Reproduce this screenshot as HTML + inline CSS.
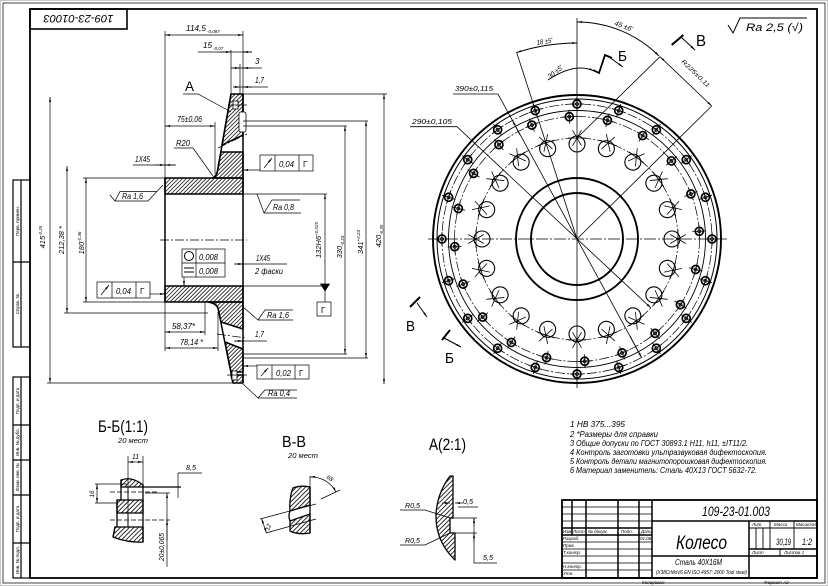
<!DOCTYPE html>
<html><head><meta charset="utf-8"><style>
html,body{margin:0;padding:0;background:#fff;}
svg{display:block;}
text{font-family:"Liberation Sans","DejaVu Sans",sans-serif;font-style:italic;fill:#000;stroke:none;}
.u{font-style:normal;}
</style></head><body>
<svg xmlns="http://www.w3.org/2000/svg" width="828" height="586" viewBox="0 0 828 586">
<defs>
<pattern id="h" width="2.8" height="2.8" patternUnits="userSpaceOnUse" patternTransform="rotate(45)"><line x1="0.5" y1="0" x2="0.5" y2="2.8" stroke="#000" stroke-width="0.75"/></pattern>
<pattern id="h2" width="3.2" height="3.2" patternUnits="userSpaceOnUse" patternTransform="rotate(45)"><line x1="0.5" y1="0" x2="0.5" y2="3.2" stroke="#000" stroke-width="0.8"/></pattern>
<marker id="ar" viewBox="0 0 10 4" refX="10" refY="2" markerWidth="5" markerHeight="2" markerUnits="userSpaceOnUse" orient="auto-start-reverse"><path d="M0,0 L10,2 L0,4 Z" fill="#000"/></marker>
<g id="oh" stroke="#000" fill="none"><circle cx="577" cy="104" r="4" stroke-width="1.7"/><circle cx="577" cy="104" r="1.5" stroke-width="0.8"/><path d="M570,104 H584 M577,97 V111" stroke-width="0.8"/></g>
<g id="ih" stroke="#000" fill="none"><circle cx="577" cy="116.5" r="4" stroke-width="1.7"/><circle cx="577" cy="116.5" r="1.5" stroke-width="0.8"/><path d="M570,116.5 H584 M577,109.5 V123.5" stroke-width="0.8"/></g>
<g id="bh" stroke="#000" fill="none"><circle cx="577" cy="144" r="8" stroke-width="1.1"/><path d="M568,138 H586 M572.5,130.2 L581.5,145.8 M581.5,130.2 L572.5,145.8" stroke-width="0.8"/></g>
</defs>

<rect x="0" y="0" width="828" height="586" fill="#fff"/>
<rect x="0.5" y="0.5" width="827" height="585" fill="none" stroke="#c8c8c8" stroke-width="1"/>
<rect x="3" y="3" width="822" height="580" fill="none" stroke="#444" stroke-width="1"/>
<rect x="30" y="9" width="787" height="569" fill="none" stroke="#000" stroke-width="1.8"/>

<!-- top-left stamp -->
<rect x="30" y="9" width="97" height="20" fill="none" stroke="#000" stroke-width="1.6"/>
<text transform="translate(78.5,19) rotate(180)" y="4" text-anchor="middle" font-size="11" textLength="70" lengthAdjust="spacingAndGlyphs">109-23-01003</text>

<!-- left margin stamps -->
<g fill="none" stroke="#000" stroke-width="1.2">
<rect x="13" y="180" width="17" height="167"/><line x1="21" y1="180" x2="21" y2="347"/><line x1="13" y1="262" x2="30" y2="262"/>
<rect x="13" y="377" width="17" height="201"/><line x1="21" y1="377" x2="21" y2="578"/>
<path d="M13,425 H30 M13,460 H30 M13,495 H30 M13,543 H30"/>
</g>
<g font-size="4.5" class="u">
<text class="u" transform="translate(19,221) rotate(-90)" text-anchor="middle">Перв. примен.</text>
<text class="u" transform="translate(19,304) rotate(-90)" text-anchor="middle">Справ. №</text>
<text class="u" transform="translate(19,401) rotate(-90)" text-anchor="middle">Подп. и дата</text>
<text class="u" transform="translate(19,442) rotate(-90)" text-anchor="middle">Инв. № дубл.</text>
<text class="u" transform="translate(19,477) rotate(-90)" text-anchor="middle">Взам. инв. №</text>
<text class="u" transform="translate(19,519) rotate(-90)" text-anchor="middle">Подп. и дата</text>
<text class="u" transform="translate(19,560) rotate(-90)" text-anchor="middle">Инв. № подл.</text>
</g>

<!-- ============ MAIN SECTION VIEW ============ -->
<g stroke="#000" stroke-width="1.5" stroke-linejoin="round">
<rect x="165" y="178" width="78" height="16" fill="url(#h)"/>
<rect x="165" y="286" width="78" height="16" fill="url(#h)"/>
<path d="M231,94 L243,94 L243,135 L222,145 Z" fill="url(#h)"/>
<path d="M221,152 L243,152 L243,178 L212,178 Q217,177 218,168 Z" fill="url(#h)"/>
<path d="M208,302 L243,302 L243,329 L221,322 L218,308 Q216,303 208,302 Z" fill="url(#h)"/>
<path d="M225,342 L243,349 L243,372 L231,372 Z" fill="url(#h)"/>
<path d="M231,375 L243,375 L243,383 L233,383 Z" fill="url(#h)"/>
<path d="M165,178 V302 M243,94 V383" fill="none"/>
<path d="M231,94 L218,168 Q217,177 212,178" fill="none"/>
<path d="M208,302 Q216,303 218,308 L233,383" fill="none"/>
</g>
<g stroke="#000" stroke-width="0.8" fill="#fff">
<rect x="233" y="101" width="5" height="8"/>
<rect x="239" y="112" width="7" height="20" rx="2"/>
<rect x="232" y="371" width="5" height="9"/>
</g>
<g stroke="#000" stroke-width="0.7" fill="none">
<path d="M228,105 H247 M227,375 H247"/>
<path d="M218,148 L247,134 M217,334 L246,338 M160,240 H247" stroke-dasharray="9 2 2 2"/>
</g>

<!-- dimension & ext lines -->
<g stroke="#000" stroke-width="0.7" fill="none">
<path d="M165,31 V178 M243,31 V94 M231,50 V95 M240,64 V95"/>
<line x1="165" y1="35" x2="243" y2="35" marker-start="url(#ar)" marker-end="url(#ar)"/>
<path d="M198,52 H252"/><line x1="220" y1="52" x2="231" y2="52" marker-end="url(#ar)"/><line x1="252" y1="52" x2="243" y2="52" marker-end="url(#ar)"/>
<path d="M231,68 H262"/><line x1="232" y1="68" x2="240" y2="68" marker-end="url(#ar)"/><line x1="252" y1="68" x2="243" y2="68" marker-end="url(#ar)"/>
<path d="M234,87 H268"/><line x1="233" y1="87" x2="240" y2="87" marker-end="url(#ar)"/><line x1="252" y1="87" x2="243" y2="87" marker-end="url(#ar)"/>
<path d="M183,94 H198 L231,112"/>
<line x1="165" y1="126" x2="215" y2="126" marker-start="url(#ar)" marker-end="url(#ar)"/>
<path d="M215,122 V174"/>
<path d="M174,148 H193 L213,176"/>
<path d="M133,165 H175"/><line x1="155" y1="165" x2="165" y2="165" marker-end="url(#ar)"/><line x1="176" y1="165" x2="165" y2="165" marker-end="url(#ar)"/>
<!-- Ra 1,6 left -->
<path d="M110,195 L115,201 L120,191.5 H157 M115,201 H148 L163,185"/>
<!-- tol box top -->
<rect x="260" y="155" width="53" height="16"/><path d="M275,155 V171 M299,155 V171"/>
<line x1="264" y1="168" x2="272" y2="158" marker-end="url(#ar)"/>
<line x1="260" y1="170" x2="243" y2="170" marker-end="url(#ar)"/>
<!-- Ra 0,8 -->
<path d="M257,194 L264,213 L272,200 H300 M264,213 H301"/>
<path d="M243,194 H327 M243,286 H327"/>
<line x1="325" y1="240" x2="325" y2="194" marker-end="url(#ar)"/>
<path d="M325,240 V290 M325,290 V302"/>
<path d="M320.5,284 H329.5 L325,291 Z" fill="#000"/>
<rect x="317" y="302" width="14" height="14"/>
<path d="M243,126 H347 M243,354 H347 M243,121 H368 M243,358 H368 M243,94 H387"/>
<line x1="345" y1="126" x2="345" y2="354" marker-start="url(#ar)" marker-end="url(#ar)"/>
<line x1="366" y1="121" x2="366" y2="358" marker-start="url(#ar)" marker-end="url(#ar)"/>
<line x1="384" y1="94" x2="384" y2="384" marker-start="url(#ar)" marker-end="url(#ar)"/>
<!-- circle/flat box -->
<rect x="182" y="249" width="43" height="28"/><path d="M182,263 H225 M196,249 V277"/>
<circle cx="189" cy="256" r="4.5" stroke-width="1"/>
<path d="M184,268 H194 M184,272 H194" stroke-width="1"/>
<line x1="184" y1="277" x2="184" y2="286" marker-end="url(#ar)"/>
<path d="M235,264 H287"/><line x1="234" y1="264" x2="243" y2="264" marker-end="url(#ar)"/>
<!-- left tol box -->
<rect x="97" y="282" width="53" height="16"/><path d="M112,282 V298 M136,282 V298"/>
<line x1="101" y1="295" x2="109" y2="285" marker-end="url(#ar)"/>
<line x1="150" y1="294" x2="165" y2="294" marker-end="url(#ar)"/>
<!-- left dims -->
<path d="M83,178 H165 M83,302 H165 M64,313 H208 M47,383 H240"/>
<line x1="86" y1="178" x2="86" y2="302" marker-start="url(#ar)" marker-end="url(#ar)"/>
<line x1="67" y1="166" x2="67" y2="313" marker-start="url(#ar)" marker-end="url(#ar)"/>
<line x1="50" y1="97" x2="50" y2="383" marker-start="url(#ar)" marker-end="url(#ar)"/>
<!-- Ra 1,6 lower -->
<path d="M243,307 L258,320 L265,310 H293 M258,320 H293"/>
<!-- 58,37 / 78,14 -->
<path d="M165,302 V351 M205,302 V335 M218,312 V351"/>
<line x1="165" y1="332" x2="205" y2="332" marker-start="url(#ar)" marker-end="url(#ar)"/>
<line x1="165" y1="348" x2="218" y2="348" marker-start="url(#ar)" marker-end="url(#ar)"/>
<path d="M235,341 H267"/><line x1="234" y1="341" x2="243" y2="341" marker-end="url(#ar)"/>
<!-- tol 0,02 -->
<rect x="257" y="365" width="52" height="14"/><path d="M272,365 V379 M295,365 V379"/>
<line x1="261" y1="376" x2="268" y2="368" marker-end="url(#ar)"/>
<line x1="257" y1="366" x2="243" y2="366" marker-end="url(#ar)"/>
<!-- Ra 0,4 -->
<path d="M243,384 L258,398 L265,390 H297 M258,398 H297"/>
</g>

<g font-size="8">
<text x="186" y="31" textLength="20" lengthAdjust="spacingAndGlyphs">114,5</text><text x="207" y="33" font-size="4.5">-0,087</text>
<text x="203" y="48" textLength="9" lengthAdjust="spacingAndGlyphs">15</text><text x="213" y="50" font-size="4.5">-0,07</text>
<text x="255" y="64">3</text>
<text x="255" y="83" textLength="9" lengthAdjust="spacingAndGlyphs">1,7</text>
<text class="u" x="185" y="91" font-size="14" textLength="9" lengthAdjust="spacingAndGlyphs">A</text>
<text x="177" y="122" textLength="25" lengthAdjust="spacingAndGlyphs">75±0,06</text>
<text x="176" y="146" textLength="14" lengthAdjust="spacingAndGlyphs">R20</text>
<text x="135" y="162" textLength="15" lengthAdjust="spacingAndGlyphs">1Х45</text>
<text x="122" y="199" textLength="21" lengthAdjust="spacingAndGlyphs">Ra 1,6</text>
<text x="279" y="167" textLength="15" lengthAdjust="spacingAndGlyphs">0,04</text><text x="303" y="167" class="u">Г</text>
<text x="273" y="210" textLength="21" lengthAdjust="spacingAndGlyphs">Ra 0,8</text>
<text x="321" y="313" class="u">Г</text>
<text transform="translate(321,240) rotate(-90)" text-anchor="middle" font-size="7.5">132H6<tspan font-size="4.5" dy="-3">+0,025</tspan></text>
<text transform="translate(342,247) rotate(-90)" text-anchor="middle" font-size="7.5">330<tspan font-size="4.5" dy="2">-0,23</tspan></text>
<text transform="translate(363,242) rotate(-90)" text-anchor="middle" font-size="7.5">341<tspan font-size="4.5" dy="-3">+0,23</tspan></text>
<text transform="translate(381,236) rotate(-90)" text-anchor="middle" font-size="7.5">420<tspan font-size="4.5" dy="2">-0,35</tspan></text>
<text x="199" y="260" textLength="19" lengthAdjust="spacingAndGlyphs">0,008</text>
<text x="199" y="274" textLength="19" lengthAdjust="spacingAndGlyphs">0,008</text>
<text x="256" y="261" textLength="14" lengthAdjust="spacingAndGlyphs">1Х45</text>
<text x="255" y="274" textLength="28" lengthAdjust="spacingAndGlyphs">2 фаски</text>
<text x="116" y="294" textLength="15" lengthAdjust="spacingAndGlyphs">0,04</text><text x="140" y="294" class="u">Г</text>
<text transform="translate(84,243) rotate(-90)" text-anchor="middle" font-size="7.5">180<tspan font-size="4.5" dy="-3">-0,36</tspan></text>
<text transform="translate(64,240) rotate(-90)" text-anchor="middle" font-size="7.5">212,38 *</text>
<text transform="translate(45,237) rotate(-90)" text-anchor="middle" font-size="7.5">415<tspan font-size="4.5" dy="-3">-0,25</tspan></text>
<text x="267" y="318" textLength="22" lengthAdjust="spacingAndGlyphs">Ra 1,6</text>
<text x="172" y="329" textLength="23" lengthAdjust="spacingAndGlyphs">58,37*</text>
<text x="180" y="345" textLength="23" lengthAdjust="spacingAndGlyphs">78,14 *</text>
<text x="255" y="337" textLength="9" lengthAdjust="spacingAndGlyphs">1,7</text>
<text x="276" y="376" textLength="15" lengthAdjust="spacingAndGlyphs">0,02</text><text x="299" y="376" class="u">Г</text>
<text x="268" y="396" textLength="22" lengthAdjust="spacingAndGlyphs">Ra 0,4</text>
</g>

<!-- ============ CIRCULAR VIEW ============ -->
<g stroke="#000" fill="none">
<circle cx="577" cy="239" r="144" stroke-width="1.9"/>
<circle cx="577" cy="239" r="140" stroke-width="1"/>
<circle cx="577" cy="239" r="135" stroke-width="0.7" stroke-dasharray="10 2 2 2"/>
<circle cx="577" cy="239" r="128.5" stroke-width="0.9"/>
<circle cx="577" cy="239" r="122.5" stroke-width="0.7" stroke-dasharray="10 2 2 2"/>
<circle cx="577" cy="239" r="101" stroke-width="0.7" stroke-dasharray="10 2 2 2"/>
<circle cx="577" cy="239" r="61" stroke-width="1.9"/>
<circle cx="577" cy="239" r="46" stroke-width="1.9"/>
<path d="M428,239 H727" stroke-width="0.7" stroke-dasharray="12 2 2 2"/>
<path d="M577,18 V388" stroke-width="0.8"/>
<path d="M577,239 L516.5,52 M577,239 L711.7,106 M577,138 L660,56.7" stroke-width="0.8"/>
<line x1="660" y1="56.7" x2="711.7" y2="106" stroke-width="0.8" marker-start="url(#ar)" marker-end="url(#ar)"/>
<path d="M577,22 A116,116 0 0 1 659,56" stroke-width="0.9" marker-start="url(#ar)" marker-end="url(#ar)"/>
<path d="M516.4,52.6 A196,196 0 0 1 577,43" stroke-width="0.9" marker-start="url(#ar)" marker-end="url(#ar)"/>
<path d="M548,80 Q575,62 594,71" stroke-width="0.9" marker-end="url(#ar)"/>
<path d="M593,70 L599,73 L605,55 L612,58" stroke-width="1.8"/>
<line x1="609" y1="57" x2="623" y2="67" stroke-width="1" marker-end="url(#ar)"/>
<path d="M671.7,45 L683.3,35" stroke-width="2"/>
<line x1="681" y1="37" x2="695" y2="50" stroke-width="1" marker-end="url(#ar)"/>
<path d="M410,307 L420,297" stroke-width="2"/>
<line x1="417" y1="303" x2="427" y2="317" stroke-width="1" marker-end="url(#ar)"/>
<path d="M442,340 L450,330" stroke-width="2"/>
<line x1="444" y1="338" x2="461" y2="347" stroke-width="1" marker-end="url(#ar)"/>
<path d="M453,94 H498 L641.6,357.6" stroke-width="0.8"/>
<line x1="520" y1="135" x2="512.4" y2="120.4" stroke-width="0.8" marker-end="url(#ar)"/>
<line x1="630" y1="336" x2="641.6" y2="357.6" stroke-width="0.8" marker-end="url(#ar)"/>
<path d="M410,126.7 H457 L651,308" stroke-width="0.8" marker-end="url(#ar)"/>
<path d="M728,25 L733,33 L740,18 H807" stroke-width="1"/>
</g>
<g>
<use href="#oh"/>
<use href="#oh" transform="rotate(18 577 239)"/><use href="#oh" transform="rotate(36 577 239)"/><use href="#oh" transform="rotate(54 577 239)"/><use href="#oh" transform="rotate(72 577 239)"/><use href="#oh" transform="rotate(90 577 239)"/><use href="#oh" transform="rotate(108 577 239)"/><use href="#oh" transform="rotate(126 577 239)"/><use href="#oh" transform="rotate(144 577 239)"/><use href="#oh" transform="rotate(162 577 239)"/><use href="#oh" transform="rotate(180 577 239)"/><use href="#oh" transform="rotate(198 577 239)"/><use href="#oh" transform="rotate(216 577 239)"/><use href="#oh" transform="rotate(234 577 239)"/><use href="#oh" transform="rotate(252 577 239)"/><use href="#oh" transform="rotate(270 577 239)"/><use href="#oh" transform="rotate(288 577 239)"/><use href="#oh" transform="rotate(306 577 239)"/><use href="#oh" transform="rotate(324 577 239)"/><use href="#oh" transform="rotate(342 577 239)"/>
<use href="#ih" transform="rotate(-3.6 577 239)"/><use href="#ih" transform="rotate(14.4 577 239)"/><use href="#ih" transform="rotate(32.4 577 239)"/><use href="#ih" transform="rotate(50.4 577 239)"/><use href="#ih" transform="rotate(68.4 577 239)"/><use href="#ih" transform="rotate(86.4 577 239)"/><use href="#ih" transform="rotate(104.4 577 239)"/><use href="#ih" transform="rotate(122.4 577 239)"/><use href="#ih" transform="rotate(140.4 577 239)"/><use href="#ih" transform="rotate(158.4 577 239)"/><use href="#ih" transform="rotate(176.4 577 239)"/><use href="#ih" transform="rotate(194.4 577 239)"/><use href="#ih" transform="rotate(212.4 577 239)"/><use href="#ih" transform="rotate(230.4 577 239)"/><use href="#ih" transform="rotate(248.4 577 239)"/><use href="#ih" transform="rotate(266.4 577 239)"/><use href="#ih" transform="rotate(284.4 577 239)"/><use href="#ih" transform="rotate(302.4 577 239)"/><use href="#ih" transform="rotate(320.4 577 239)"/><use href="#ih" transform="rotate(338.4 577 239)"/>
<use href="#bh"/>
<use href="#bh" transform="rotate(18 577 239)"/><use href="#bh" transform="rotate(36 577 239)"/><use href="#bh" transform="rotate(54 577 239)"/><use href="#bh" transform="rotate(72 577 239)"/><use href="#bh" transform="rotate(90 577 239)"/><use href="#bh" transform="rotate(108 577 239)"/><use href="#bh" transform="rotate(126 577 239)"/><use href="#bh" transform="rotate(144 577 239)"/><use href="#bh" transform="rotate(162 577 239)"/><use href="#bh" transform="rotate(180 577 239)"/><use href="#bh" transform="rotate(198 577 239)"/><use href="#bh" transform="rotate(216 577 239)"/><use href="#bh" transform="rotate(234 577 239)"/><use href="#bh" transform="rotate(252 577 239)"/><use href="#bh" transform="rotate(270 577 239)"/><use href="#bh" transform="rotate(288 577 239)"/><use href="#bh" transform="rotate(306 577 239)"/><use href="#bh" transform="rotate(324 577 239)"/><use href="#bh" transform="rotate(342 577 239)"/>
</g>
<g font-size="7">
<text x="455" y="91" textLength="38" lengthAdjust="spacingAndGlyphs">390±0,115</text>
<text x="412" y="124" textLength="40" lengthAdjust="spacingAndGlyphs">290±0,105</text>
<text transform="translate(537,45) rotate(-9)" textLength="16" lengthAdjust="spacingAndGlyphs">18 ±5'</text>
<text transform="translate(550,79) rotate(-38)" textLength="17" lengthAdjust="spacingAndGlyphs">30 ±5'</text>
<text transform="translate(614,25) rotate(20)" textLength="19" lengthAdjust="spacingAndGlyphs">45 ±6'</text>
<text transform="translate(681,62) rotate(44)" font-size="6" textLength="37" lengthAdjust="spacingAndGlyphs">R225±0,11</text>
<text class="u" x="618" y="61" font-size="15" textLength="9" lengthAdjust="spacingAndGlyphs">Б</text>
<text class="u" x="696" y="46" font-size="16" textLength="10" lengthAdjust="spacingAndGlyphs">В</text>
<text class="u" x="406" y="331" font-size="15" textLength="9" lengthAdjust="spacingAndGlyphs">В</text>
<text class="u" x="445" y="363" font-size="15" textLength="9" lengthAdjust="spacingAndGlyphs">Б</text>
<text x="746" y="31" font-size="11" textLength="57" lengthAdjust="spacingAndGlyphs">Ra 2,5 (√)</text>
</g>

<!-- ============ SECTION Б-Б ============ -->
<text class="u" x="98" y="432" font-size="17" textLength="50" lengthAdjust="spacingAndGlyphs">Б-Б(1:1)</text>
<text x="118" y="443" font-size="7" textLength="30" lengthAdjust="spacingAndGlyphs">20 мест</text>
<g stroke="#000" stroke-width="1.3" stroke-linejoin="round">
<path d="M121,480 Q132,476 143,485 L143,487 L121,487 Z" fill="url(#h2)"/>
<rect x="117" y="500" width="26" height="13" fill="url(#h2)"/>
<path d="M115,527 L143,527 L143,542 Q128,543 113,537 Z" fill="url(#h2)"/>
<path d="M121,480 L121,500 L117,500 L117,527 L115,527 L113,537 M143,485 V542" fill="none"/>
<path d="M121,487 H128 V500 M117,513 H128 V527" fill="none" stroke-width="1"/>
</g>
<g stroke="#000" stroke-width="0.7" fill="none">
<path d="M128,456 V513 M143,456 V485"/>
<line x1="128" y1="462" x2="143" y2="462" marker-start="url(#ar)" marker-end="url(#ar)"/>
<path d="M143,487 H181" stroke-width="1.2"/>
<path d="M110,492 H157 M110,520 H170" stroke-dasharray="5 2"/>
<path d="M145,493 H170 M95,484 H127 M95,503 H118"/>
<path d="M178,473 H202 M178,473 V498"/>
<line x1="97" y1="484" x2="97" y2="503" marker-start="url(#ar)" marker-end="url(#ar)"/>
<line x1="167" y1="493" x2="167" y2="567" marker-start="url(#ar)"/>
<line x1="167" y1="540" x2="167" y2="520" marker-end="url(#ar)"/>
</g>
<g font-size="7">
<text x="132" y="459" textLength="7" lengthAdjust="spacingAndGlyphs">11</text>
<text x="186" y="470" textLength="10" lengthAdjust="spacingAndGlyphs">8,5</text>
<text transform="translate(94,494) rotate(-90)" text-anchor="middle" font-size="6">16</text>
<text transform="translate(164,547) rotate(-90)" text-anchor="middle" textLength="28" lengthAdjust="spacingAndGlyphs">20±0,065</text>
</g>

<!-- ============ SECTION В-В ============ -->
<text class="u" x="282" y="447" font-size="16" textLength="24" lengthAdjust="spacingAndGlyphs">В-В</text>
<text x="288" y="458" font-size="7" textLength="30" lengthAdjust="spacingAndGlyphs">20 мест</text>
<g stroke="#000" stroke-width="1.3" stroke-linejoin="round">
<path d="M293,488 Q301,485 310,487 L310,505 L290,511 Q289,498 293,488 Z" fill="url(#h2)"/>
<path d="M290,521 L310,514 L310,533 Q298,535 290,531 Z" fill="url(#h2)"/>
<path d="M290,511 Q288,516 290,521" fill="none"/>
<path d="M310,487 V533" fill="none"/>
</g>
<g stroke="#000" stroke-width="0.7" fill="none">
<path d="M310,476 V487 M260,519 L316,504 M266,533 L316,519 M321,499 L340,490"/>
<line x1="261.5" y1="518.5" x2="266.5" y2="533" marker-start="url(#ar)" marker-end="url(#ar)"/>
<path d="M310,477 A28,28 0 0 1 336,492" marker-start="url(#ar)" marker-end="url(#ar)"/>
</g>
<text transform="translate(269,531) rotate(-70)" font-size="6">12</text>
<text transform="translate(326,478) rotate(35)" font-size="6">68</text>

<!-- ============ VIEW A(2:1) ============ -->
<text class="u" x="429" y="450" font-size="17" textLength="37" lengthAdjust="spacingAndGlyphs">A(2:1)</text>
<g stroke="#000" stroke-width="1.3" stroke-linejoin="round">
<path d="M450,476 C432,500 429,535 455,560 L455,533 L450,533 L450,518 L453,518 L453,476 Z" fill="url(#h2)"/>
</g>
<g stroke="#000" stroke-width="0.7" fill="none">
<path d="M453,518 H477 M455,533 H477 M474,518 V563 H497 M458,507 H478 M400,510 H425 L450,518 M400,545 H425 L450,533"/>
<line x1="474" y1="526" x2="474" y2="518" marker-end="url(#ar)"/>
<line x1="474" y1="542" x2="474" y2="533" marker-end="url(#ar)"/>
<line x1="442" y1="503" x2="450" y2="503" marker-end="url(#ar)"/>
<line x1="463" y1="503" x2="455" y2="503" marker-end="url(#ar)"/>
</g>
<g font-size="7">
<text x="463" y="504" textLength="10" lengthAdjust="spacingAndGlyphs">0,5</text>
<text x="405" y="508" textLength="15" lengthAdjust="spacingAndGlyphs">R0,5</text>
<text x="405" y="543" textLength="15" lengthAdjust="spacingAndGlyphs">R0,5</text>
<text x="483" y="560" textLength="10" lengthAdjust="spacingAndGlyphs">5,5</text>
</g>

<!-- ============ NOTES ============ -->
<g font-size="8">
<text x="570" y="427" textLength="55" lengthAdjust="spacingAndGlyphs">1 НВ 375...395</text>
<text x="570" y="437" textLength="88" lengthAdjust="spacingAndGlyphs">2 *Размеры для справки</text>
<text x="570" y="446" textLength="178" lengthAdjust="spacingAndGlyphs">3 Общие допуски по ГОСТ 30893.1 Н11, h11, ±IT11/2.</text>
<text x="570" y="455" textLength="197" lengthAdjust="spacingAndGlyphs">4 Контроль заготовки ультразвуковая дифектоскопия.</text>
<text x="570" y="464" textLength="197" lengthAdjust="spacingAndGlyphs">5 Контроль детали магнитопорошковая дифектоскопия.</text>
<text x="570" y="473" textLength="187" lengthAdjust="spacingAndGlyphs">6 Материал заменитель: Сталь 40Х13 ГОСТ 5632-72.</text>
</g>

<!-- ============ TITLE BLOCK ============ -->
<g stroke="#000" fill="none">
<rect x="562" y="500" width="255" height="78" stroke-width="1.8"/>
<path d="M652,500 V578 M586,500 V578 M618,500 V578 M639,500 V578 M572,500 V535" stroke-width="1.5"/>
<path d="M562,507 H652 M562,514 H652 M562,521 H652 M562,542 H652 M562,549 H652 M562,556 H652 M562,563 H652 M562,570 H652" stroke-width="0.8"/>
<path d="M562,528 H652 M562,535 H652" stroke-width="1.5"/>
<path d="M652,521 H817 M652,556 H817 M749,521 V578 M749,549 H817" stroke-width="1.5"/>
<path d="M749,528 H817 M770,521 V549 M794,521 V549 M756,528 V549 M763,528 V549 M780,549 V556" stroke-width="0.9"/>
</g>
<g font-size="4.5">
<text x="563" y="533">Изм.</text><text x="573" y="533">Лист</text><text x="588" y="533">№ докум.</text><text x="621" y="533">Подп.</text><text x="641" y="533">Дата</text>
<text x="563" y="540">Разраб.</text><text x="640" y="540">01.06</text>
<text x="563" y="547">Пров.</text>
<text x="563" y="554">Т.контр.</text>
<text x="563" y="568">Н.контр.</text>
<text x="563" y="575">Утв.</text>
<text x="752" y="526">Лит.</text><text x="774" y="526">Масса</text><text x="796" y="526">Масштаб</text>
<text x="752" y="554">Лист</text><text x="784" y="554">Листов  1</text>
<text x="642" y="584">Копировал</text><text x="764" y="584">Формат   A2</text>
</g>
<text x="702" y="516" font-size="14" textLength="68" lengthAdjust="spacingAndGlyphs">109-23-01.003</text>
<text x="676" y="549" font-size="19" textLength="51" lengthAdjust="spacingAndGlyphs">Колесо</text>
<text x="675" y="565" font-size="8.5" textLength="47" lengthAdjust="spacingAndGlyphs">Сталь 40Х16М</text>
<text x="656" y="574" font-size="5.5" textLength="91" lengthAdjust="spacingAndGlyphs">(X38CrMoV6 EN ISO 4957: 2000 Tool steel)</text>
<text x="776" y="545" font-size="9" textLength="15" lengthAdjust="spacingAndGlyphs">30,19</text>
<text x="802" y="545" font-size="9" textLength="10" lengthAdjust="spacingAndGlyphs">1:2</text>
</svg>
</body></html>
